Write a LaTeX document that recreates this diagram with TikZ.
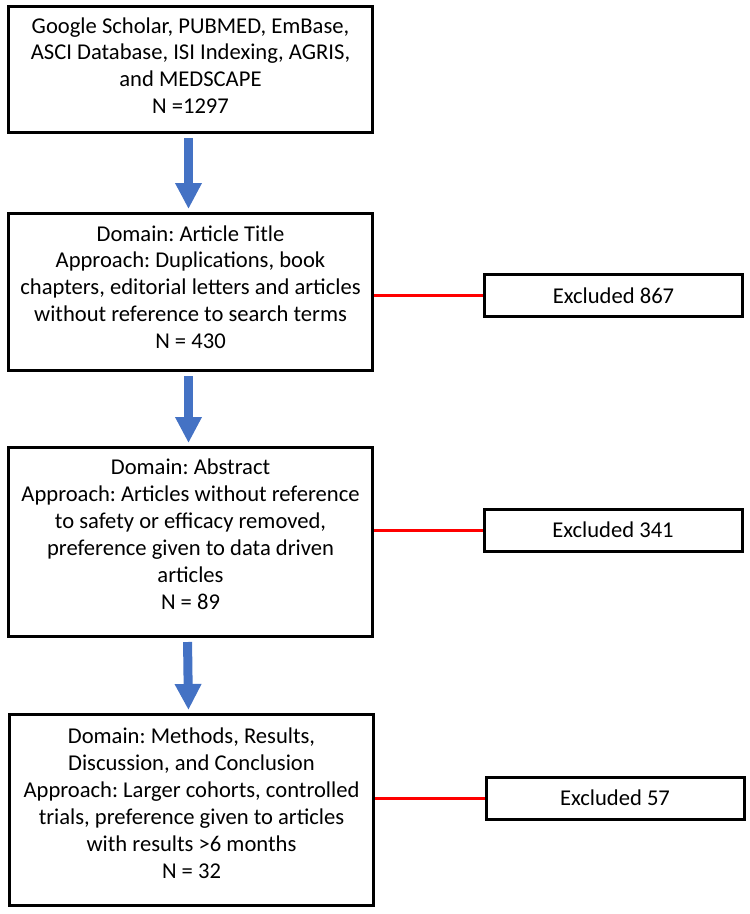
\documentclass[tikz,border=0pt]{standalone}
\usepackage{fontspec}
\setmainfont{Carlito}
\usetikzlibrary{arrows.meta}
\definecolor{arrowblue}{RGB}{68,114,196}
\frenchspacing
\begin{document}
\begin{tikzpicture}[x=1pt,y=-1pt,
  every node/.style={font=\fontsize{22.6}{26.9}\selectfont},
  bigbox/.style={draw=black, line width=3pt, minimum width=364pt, align=center, inner sep=0pt},
  exbox/.style={draw=black, line width=3pt, minimum width=258pt, minimum height=42pt, inner sep=0pt},
  flowarrow/.style={draw=arrowblue, line width=9pt, -{Triangle[length=26pt,width=25pt]}, shorten <=4pt, shorten >=3pt},
  exline/.style={draw=red, line width=3pt}]
\useasboundingbox (0,0) rectangle (750,914);
\node[bigbox, minimum height=126pt, text depth=8pt] (b1) at (190.5,69.5)
  {Google Scholar, PUBMED, EmBase,\\ASCI Database, ISI Indexing, AGRIS,\\and MEDSCAPE\\N =1297};
\node[bigbox, minimum height=157pt, text depth=10pt] (b2) at (190.5,292)
  {Domain: Article Title\\Approach: Duplications, book\\chapters, editorial letters and articles\\without reference to search terms\\N = 430};
\node[bigbox, minimum height=189pt, text depth=16pt] (b3) at (190.5,542)
  {Domain: Abstract\\Approach: Articles without reference\\to safety or efficacy removed,\\preference given to data driven\\articles\\N = 89};
\node[bigbox, minimum height=191pt, text depth=14pt] (b4) at (191.5,810)
  {Domain: Methods, Results,\\Discussion, and Conclusion\\Approach: Larger cohorts, controlled\\trials, preference given to articles\\with results >6 months\\N = 32};
\node[exbox] (e1) at (613.5,295.5) {Excluded 867};
\node[exbox] (e2) at (613,530) {Excluded 341};
\node[exbox] (e3) at (615,798) {Excluded 57};
\draw[flowarrow] ([xshift=-2pt]b1.south) -- ([xshift=-2pt]b2.north);
\draw[flowarrow] ([xshift=-2pt]b2.south) -- ([xshift=-2pt]b3.north);
\draw[flowarrow] ([xshift=-3pt]b3.south) -- ([xshift=-3pt]b4.north);
\draw[exline] (e1.west -| b2.east) -- (e1.west);
\draw[exline] (e2.west -| b3.east) -- (e2.west);
\draw[exline] (e3.west -| b4.east) -- (e3.west);
\end{tikzpicture}
\end{document}
